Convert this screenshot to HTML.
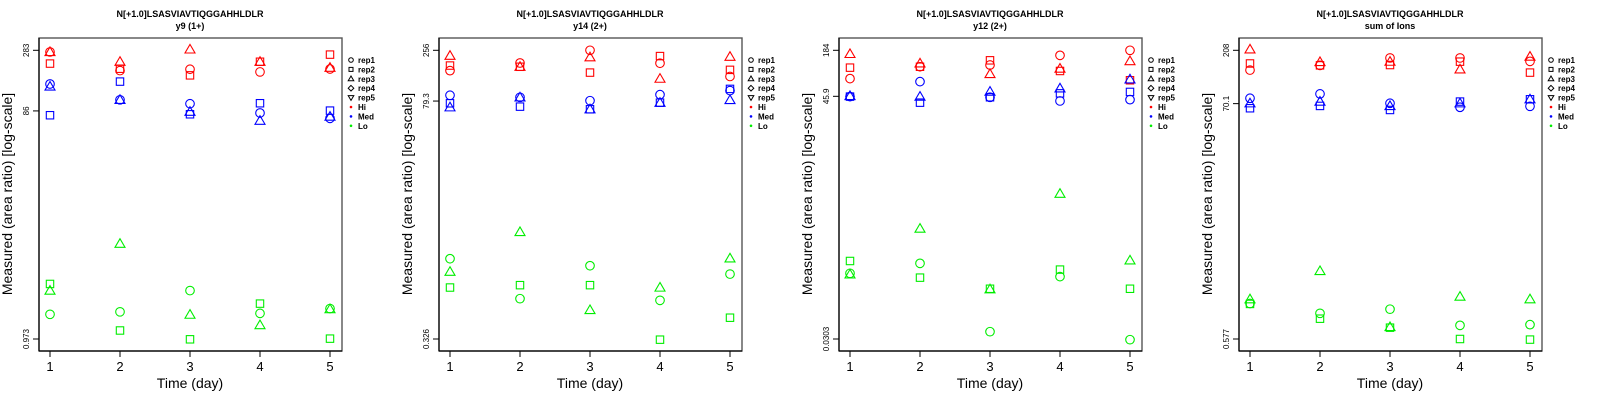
<!DOCTYPE html>
<html><head><meta charset="utf-8"><style>
body{margin:0;background:#fff;width:1600px;height:400px;overflow:hidden}
svg{display:block}
text{font-family:"Liberation Sans",sans-serif}
</style></head><body>
<svg id="chart" width="1600" height="400" xmlns="http://www.w3.org/2000/svg"></svg>
<script>
// Data: per panel, per group (Hi, Med, Lo), per replicate (rep1, rep2, rep3), values for days 1..5
const days = [1,2,3,4,5];
const groups = ["Hi","Med","Lo"];
const reps = ["rep1","rep2","rep3","rep4","rep5"];
const titles = ["y9 (1+)","y14 (2+)","y12 (2+)","sum of Ions"];
const peptide = "N[+1.0]LSASVIAVTIQGGAHHLDLR";
const tickHi = [283,256,184,208];
const tickMid = [86,79.3,45.9,70.1];
const tickLo = [0.973,0.326,0.0303,0.577];

const p1Hi1=[274,190,195,185,196], p1Hi2=[218,197,173,226,260], p1Hi3=[274,226,288,226,201];
const p1Med1=[146,107,99,82.6,74.3], p1Med2=[79,153,80.5,100,86.5], p1Med3=[139,107,84.7,71,76.9];
const p1Lo1=[1.58,1.66,2.52,1.61,1.77], p1Lo2=[2.87,1.15,0.967,1.95,0.98], p1Lo3=[2.52,6.33,1.57,1.28,1.75];

const p2Hi1=[160,191,256,190,140], p2Hi2=[180,175,153,224,163], p2Hi3=[226,175,218,133,221];
const p2Med1=[90.6,86.5,80,92,101], p2Med2=[75.3,69.7,65.6,76.4,105], p2Med3=[68.7,86.5,65.6,76.4,81.3];
const p2Lo1=[2.08,0.827,1.77,0.796,1.46], p2Lo2=[1.07,1.13,1.13,0.321,0.533], p2Lo3=[1.54,3.86,0.637,1.07,2.10];

const p3Hi1=[78.3,112,118,158,184], p3Hi2=[109,112,136,98.6,74.5], p3Hi3=[165,124,90.1,106,133];
const p3Med1=[45.5,71.5,44.6,39.9,41.5], p3Med2=[45.5,37.9,44.6,50.2,52.4], p3Med3=[46.4,45.5,52.9,58.4,76.7];
const p3Lo1=[0.220,0.297,0.0378,0.199,0.0297], p3Lo2=[0.319,0.193,0.138,0.246,0.138], p3Lo3=[0.213,0.847,0.136,2.43,0.325];

const p4Hi1=[139,153,178,178,166], p4Hi2=[159,153,154,165,132], p4Hi3=[212,164,165,141,183];
const p4Med1=[78.2,85.5,70.6,65.1,66.4], p4Med2=[63.8,66.9,61.6,73.1,76.6], p4Med3=[70.6,73.1,66.9,70.6,76.6];
const p4Lo1=[1.19,0.974,1.06,0.762,0.773], p4Lo2=[1.18,0.873,0.727,0.577,0.570], p4Lo3=[1.30,2.31,0.737,1.37,1.30];

const panels = [
 [[p1Hi1,p1Hi2,p1Hi3],[p1Med1,p1Med2,p1Med3],[p1Lo1,p1Lo2,p1Lo3]],
 [[p2Hi1,p2Hi2,p2Hi3],[p2Med1,p2Med2,p2Med3],[p2Lo1,p2Lo2,p2Lo3]],
 [[p3Hi1,p3Hi2,p3Hi3],[p3Med1,p3Med2,p3Med3],[p3Lo1,p3Lo2,p3Lo3]],
 [[p4Hi1,p4Hi2,p4Hi3],[p4Med1,p4Med2,p4Med3],[p4Lo1,p4Lo2,p4Lo3]]
];
const colors = ["#ff0000","#0000ff","#00ee00"];
const NS="http://www.w3.org/2000/svg";
const svg=document.getElementById('chart');
function mk(tag,attrs,parent){const e=document.createElementNS(NS,tag);for(const k in attrs)e.setAttribute(k,attrs[k]);(parent||svg).appendChild(e);return e;}
function txt(parent,x,y,s,size,extra){const t=mk('text',Object.assign({x:x,y:y,'font-size':size,'text-anchor':'middle'},extra||{}),parent);t.textContent=s;return t;}

function marker(g,shape,cx,cy,col){
  let e;
  if(shape===0){e=mk('circle',{cx:cx,cy:cy,r:4.3,fill:'none',stroke:col,'stroke-width':1.1},g);}
  else if(shape===1){e=mk('rect',{x:cx-3.7,y:cy-3.7,width:7.4,height:7.4,fill:'none',stroke:col,'stroke-width':1.1},g);}
  else {e=mk('polygon',{points:`${cx},${cy-5} ${cx-5},${cy+3.6} ${cx+5},${cy+3.6}`,fill:'none',stroke:col,'stroke-width':1.1},g);}
  return e;
}

for(let p=0;p<4;p++){
  const ox=p*400;
  const g=mk('g',{transform:`translate(${ox},0)`});
  
  
  const lo=Math.log(tickLo[p]), hi=Math.log(tickHi[p]);
  const yS=v=>339-(Math.log(v)-lo)/(hi-lo)*288.7;
  const xS=d=>50+(d-1)*70;
  const t1=txt(g,190,17,peptide,9,{'font-weight':'bold'});
  
  
  const t2=txt(g,190,29,titles[p],9,{'font-weight':'bold'});
  
  
  const box=mk('rect',{x:39,y:38,width:303,height:313,fill:'none',stroke:'#555','stroke-width':1.4},g);
  
  
  mk('line',{x1:39,y1:351,x2:342,y2:351,stroke:'#000','stroke-width':1.2},g);
  mk('line',{x1:39,y1:38,x2:39,y2:351,stroke:'#000','stroke-width':1.2},g);
  days.forEach(d=>{
    mk('line',{x1:xS(d),y1:351,x2:xS(d),y2:357,stroke:'#000'},g);
    const t=txt(g,xS(d),371,String(d),13);
    
    
  });
  [tickHi[p],tickMid[p],tickLo[p]].forEach(v=>{
    const y=yS(v);
    mk('line',{x1:33,y1:y,x2:39,y2:y,stroke:'#000'},g);
    const t=txt(g,0,0,String(v),8,{transform:`translate(29,${y}) rotate(-90)`});
    
    
  });
  const xt=txt(g,190,388,'Time (day)',14);
  
  
  const yt=txt(g,0,0,'Measured (area ratio) [log-scale]',14,{transform:'translate(12,194) rotate(-90)'});
  
  
  panels[p].forEach((grp,gi)=>{
    grp.forEach((series,ri)=>{
      series.forEach((v,di)=>{
        const m=marker(g,ri,xS(days[di]),yS(v),colors[gi]);
        
        
      });
    });
  });
  const lg=mk('g',{},g);
  
  
  const labels=reps.concat(groups);
  labels.forEach((s,i)=>{
    const y=60+i*9.4;
    const sx=351;
    if(i===0) mk('circle',{cx:sx,cy:y,r:2.3,fill:'none',stroke:'#000','stroke-width':1},lg);
    else if(i===1) mk('rect',{x:sx-2,y:y-2,width:4,height:4,fill:'none',stroke:'#000','stroke-width':1},lg);
    else if(i===2) mk('polygon',{points:`${sx},${y-2.8} ${sx-2.8},${y+2} ${sx+2.8},${y+2}`,fill:'none',stroke:'#000','stroke-width':1},lg);
    else if(i===3) mk('polygon',{points:`${sx},${y-2.8} ${sx-2.8},${y} ${sx},${y+2.8} ${sx+2.8},${y}`,fill:'none',stroke:'#000','stroke-width':1},lg);
    else if(i===4) mk('polygon',{points:`${sx},${y+2.8} ${sx-2.8},${y-2} ${sx+2.8},${y-2}`,fill:'none',stroke:'#000','stroke-width':1},lg);
    else mk('circle',{cx:sx,cy:y,r:1.3,fill:colors[i-5]},lg);
    const t=mk('text',{x:358,y:y+3,'font-size':8,'font-weight':'bold'},lg);
    t.textContent=s;
    
    
  });
}
</script>
</body></html>
